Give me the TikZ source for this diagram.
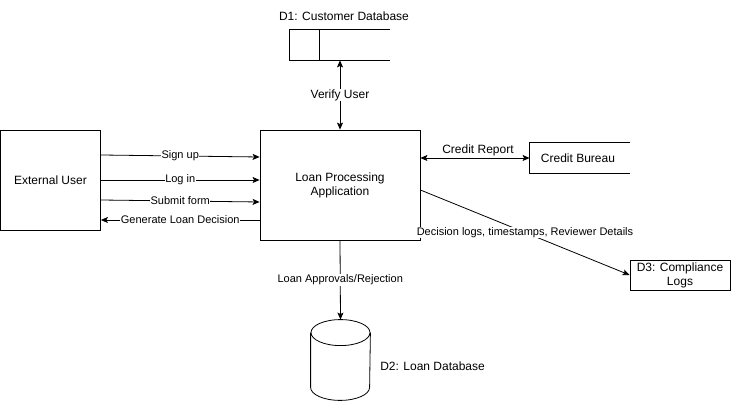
\documentclass[tikz,border=0pt]{standalone}
\usepackage{fontspec}
\setmainfont{Liberation Sans}
\usetikzlibrary{positioning}
\usepgflibrary{arrows.meta}

\begin{document}
\begin{tikzpicture}
    [x=1pt, y=1pt,
    line width=0.8pt,
    flow/.style={-{Stealth[length=7pt,width=6pt,inset=1.5pt]}},
    both/.style={{Stealth[length=7pt,width=6pt,inset=1.5pt]}-{Stealth[length=7pt,width=6pt,inset=1.5pt]}},
    box/.style={draw, minimum width=#1, align=center, inner sep=0pt, font=\fontsize{12}{14}\selectfont},
    store/.style={minimum width=100pt, minimum height=30pt, inner sep=0pt, font=\fontsize{12}{14}\selectfont},
    lbl/.style={fill=white, inner sep=0.5pt, font=\fontsize{11}{13}\selectfont},
    biglbl/.style={inner sep=0.5pt, font=\fontsize{12}{14}\selectfont}]
    \useasboundingbox (0,0) rectangle (731,401);

        %% processes and entities
    \node[box=100pt, minimum height=100pt] (user) at (50.5,221) {External User};
    \node[box=160pt, minimum height=110pt] (app) at (340,216) {Loan Processing\\Application};
    \node[store] (bureau) at (580,243) {\hspace{-4pt}Credit Bureau};
    \node[box=100pt, minimum height=30pt] (d3) at (680,126) {D3: Compliance\\Logs};

        %% data stores
    \node[store] (d1) at (340,356) {};
    \node[biglbl, above=8pt of d1, xshift=4pt] (d1name) {D1: Customer Database};
    \draw (d1.north east) -- (d1.north west) -- (d1.south west) -- (d1.south east);
    \draw ([xshift=30pt]d1.north west) -- ([xshift=30pt]d1.south west);
    \draw (bureau.north east) -- (bureau.north west) -- (bureau.south west) -- (bureau.south east);

    \node[minimum width=59pt, minimum height=80pt, inner sep=0pt] (d2) at (340.5,41) {};
    \draw ([yshift=-13pt]d2.north) ellipse [x radius=29.5pt, y radius=13pt];
    \draw ([yshift=-13pt]d2.north west) -- ([yshift=13pt]d2.south west)
        arc [start angle=180, end angle=360, x radius=29.5pt, y radius=13pt]
        -- ([yshift=-13pt]d2.north east);
    \node[biglbl, right=9pt of d2, yshift=-6pt] (d2name) {D2: Loan Database};

        %% flows
    \draw[flow] ([yshift=25pt]user.east) to node[lbl] {Sign up} ([yshift=28pt]app.west);
    \draw[flow] (user.east) to node[lbl] {Log in} ([yshift=5pt]app.west);
    \draw[flow] ([yshift=-20pt]user.east) to node[lbl] {Submit form} ([yshift=-17pt]app.west);
    \draw[flow] ([yshift=-35pt]app.west) to node[lbl] {Generate Loan Decision} ([yshift=-40pt]user.east);
    \draw[both] (d1.south) to node[lbl, font=\fontsize{12}{14}\selectfont] {Verify User} (app.north);
    \draw[both] (app.east |- bureau.west) to node[above=1pt, biglbl, xshift=3pt] {Credit Report} (bureau.west);
    \draw[flow] ([yshift=-5pt]app.east) to node[lbl] {Decision logs, timestamps, Reviewer Details} (d3.west);
    \draw[flow] (app.south) to node[lbl] {Loan Approvals/Rejection} (d2.north);
\end{tikzpicture}
\end{document}
